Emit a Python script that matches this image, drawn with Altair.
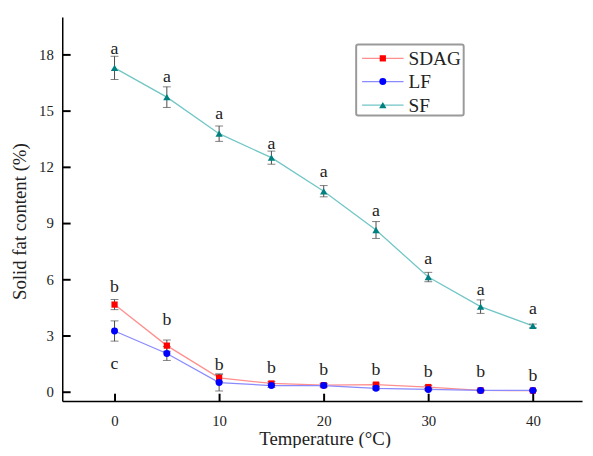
import altair as alt
import pandas as pd

# ---------------- data ----------------
temps = [0, 5, 10, 15, 20, 25, 30, 35, 40]
series_names = ["SDAG", "LF", "SF"]

sdag = [4.65, 2.46, 0.74, 0.44, 0.35, 0.38, 0.25, 0.07, 0.06]
sdag_err = [0.27, 0.30, 0.20, 0.10, 0.08, 0.08, 0.08, 0.03, 0.03]
lf = [3.24, 2.04, 0.49, 0.33, 0.33, 0.18, 0.12, 0.07, 0.07]
lf_err = [0.54, 0.37, 0.45, 0.10, 0.08, 0.08, 0.06, 0.03, 0.03]
sf = [17.28, 15.72, 13.77, 12.49, 10.70, 8.63, 6.12, 4.54, 3.51]
sf_err = [0.62, 0.55, 0.41, 0.35, 0.30, 0.45, 0.25, 0.36, 0.10]

# significance letters (position in data units, text)
a_letter_y = [18.28, 16.79, 14.83, 13.19, 11.70, 9.65, 7.09, 5.42, 4.42]
b_letter_y = [5.60, 3.80, 1.40, 1.26, 1.17, 1.17, 1.04, 1.04, 0.83]
c_letter_x = [0]
c_letter_y = [1.50]

x_ticks = [0, 10, 20, 30, 40]
y_ticks = [0, 3, 6, 9, 12, 15, 18]
x_min, x_max = -5, 44.7
y_min, y_max = -0.5, 20

# ---------------- styles ----------------
line_colors = {"SDAG": "#ff8f8f", "LF": "#8a8aff", "SF": "#72c6c6"}
marker_colors = {"SDAG": "#ff0000", "LF": "#0000ff", "SF": "#008080"}
marker_shapes = {"SDAG": "square", "LF": "circle", "SF": "triangle-up"}
marker_sizes = {"SDAG": 40, "LF": 50, "SF": 55}
FONT = "Liberation Serif"
TXT = "#222222"

W, H = 527, 389.5
xs = alt.Scale(domain=[x_min, x_max], nice=False, zero=False)
ys = alt.Scale(domain=[y_min, y_max], nice=False, zero=False)
INWARD = alt.ExprRef(expr="-8")   # ticks drawn into the plot

values = {"SDAG": (sdag, sdag_err), "LF": (lf, lf_err), "SF": (sf, sf_err)}
frames = {}
for s in series_names:
    v, e = values[s]
    frames[s] = pd.DataFrame({
        "temp": temps,
        "val": v,
        "lo": [a - b for a, b in zip(v, e)],
        "hi": [a + b for a, b in zip(v, e)],
    })

main_x_axis = alt.Axis(orient="bottom", values=x_ticks, ticks=True, tickSize=INWARD,
                       tickWidth=2, tickColor="black", zindex=1,
                       labelPadding=21, labelFont=FONT, labelFontSize=15,
                       labelColor=TXT, domainColor="black", domainWidth=1.5,
                       grid=False, format="d", title="Temperature (°C)",
                       titleFont=FONT, titleFontSize=19, titleFontWeight="normal",
                       titleColor=TXT, titleX=266, titleY=44,
                       titleBaseline="alphabetic", titleAlign="center")
main_y_axis = alt.Axis(orient="left", values=y_ticks, ticks=True, tickSize=INWARD,
                       tickWidth=2, tickColor="black", zindex=1,
                       labelPadding=17, labelFont=FONT, labelFontSize=15,
                       labelColor=TXT, domainColor="black", domainWidth=1.5,
                       grid=False, format="d", title="Solid fat content (%)",
                       titleFont=FONT, titleFontSize=19, titleFontWeight="normal",
                       titleColor=TXT, titleX=-43, titleY=207, titleAngle=-90,
                       titleAlign="center", titleBaseline="middle")

layers = []
first = True
for s in series_names:
    df = frames[s]
    if first:
        xa, ya = main_x_axis, main_y_axis
    else:
        xa, ya = None, None
    line = alt.Chart(df).mark_line(strokeWidth=1.3, color=line_colors[s]).encode(
        x=alt.X("temp:Q", scale=xs, axis=xa),
        y=alt.Y("val:Q", scale=ys, axis=ya),
    )
    layers.append(line)
    first = False

for s in series_names:
    df = frames[s]
    bars = alt.Chart(df).mark_rule(color="#4a4a4a", strokeWidth=1).encode(
        x=alt.X("temp:Q", scale=xs, axis=None),
        y=alt.Y("lo:Q", scale=ys, axis=None),
        y2="hi:Q",
    )
    cap_lo = alt.Chart(df).mark_tick(color="#4a4a4a", orient="horizontal",
                                     size=8, thickness=1).encode(
        x=alt.X("temp:Q", scale=xs, axis=None),
        y=alt.Y("lo:Q", scale=ys, axis=None),
    )
    cap_hi = alt.Chart(df).mark_tick(color="#4a4a4a", orient="horizontal",
                                     size=8, thickness=1).encode(
        x=alt.X("temp:Q", scale=xs, axis=None),
        y=alt.Y("hi:Q", scale=ys, axis=None),
    )
    layers += [bars, cap_lo, cap_hi]

for s in series_names:
    df = frames[s]
    pts = alt.Chart(df).mark_point(filled=True, opacity=1, shape=marker_shapes[s],
                                   size=marker_sizes[s], color=marker_colors[s]).encode(
        x=alt.X("temp:Q", scale=xs, axis=None),
        y=alt.Y("val:Q", scale=ys, axis=None),
    )
    layers.append(pts)

letters = pd.DataFrame({
    "temp": temps + temps + c_letter_x,
    "ly": a_letter_y + b_letter_y + c_letter_y,
    "txt": ["a"] * len(temps) + ["b"] * len(temps) + ["c"] * len(c_letter_x),
})
layers.append(
    alt.Chart(letters).mark_text(font=FONT, fontSize=18, color=TXT,
                                 baseline="middle", align="center").encode(
        x=alt.X("temp:Q", scale=xs, axis=None),
        y=alt.Y("ly:Q", scale=ys, axis=None),
        text="txt:N",
    )
)

# legend box (layout in pixels)
one = pd.DataFrame({"k": [0]})
layers.append(
    alt.Chart(one).mark_rect(fill="white", stroke="#9a9a9a", strokeWidth=2,
                             cornerRadius=2).encode(
        x=alt.value(298), x2=alt.value(407), y=alt.value(28), y2=alt.value(100))
)
leg_y = [42, 65.5, 89.5]
for s, yy in zip(series_names, leg_y):
    layers.append(alt.Chart(one).mark_rule(color=line_colors[s], strokeWidth=1.3).encode(
        x=alt.value(304), x2=alt.value(346), y=alt.value(yy)))
    layers.append(alt.Chart(one).mark_point(filled=True, opacity=1, shape=marker_shapes[s],
                                           size=marker_sizes[s], color=marker_colors[s]).encode(
        x=alt.value(325), y=alt.value(yy)))
    layers.append(alt.Chart(pd.DataFrame({"t": [s]})).mark_text(
        font=FONT, fontSize=19.5, color=TXT, align="left", baseline="middle").encode(
        x=alt.value(351), y=alt.value(yy + 1), text="t:N"))

chart = alt.layer(*layers).resolve_axis(x="independent", y="independent").properties(
    width=W, height=H,
    background="white",
    autosize=alt.AutoSizeParams(type="none"),
    padding={"left": 55, "top": 6, "right": 3, "bottom": 44.5},
).configure_view(stroke=None)

chart.save("out.html", embed_options={"renderer": "svg", "actions": False})
